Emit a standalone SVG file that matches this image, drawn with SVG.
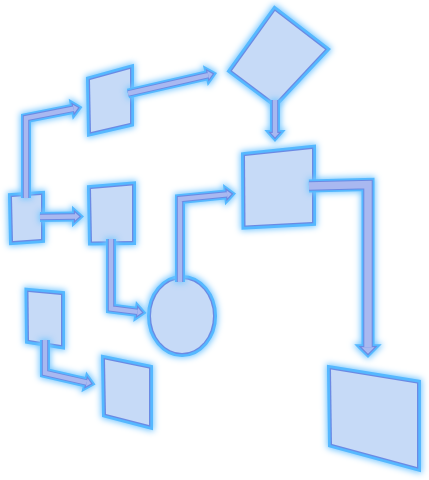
<svg xmlns="http://www.w3.org/2000/svg" xmlns:xlink="http://www.w3.org/1999/xlink" width="429" height="480" viewBox="0 0 429 480">
<defs>
<filter id="glow" filterUnits="userSpaceOnUse" x="0" y="0" width="429" height="480" color-interpolation-filters="sRGB">
<feMorphology in="SourceAlpha" operator="dilate" radius="1" result="m"/>
<feGaussianBlur in="m" stdDeviation="3" result="b"/>
<feFlood flood-color="#74c6ff" flood-opacity="1"/>
<feComposite in2="b" operator="in" result="g"/>
<feMerge><feMergeNode in="g"/><feMergeNode in="SourceGraphic"/></feMerge>
</filter>
<path id="pa" d="M26,198 V118 L73.67,108.72"/>
<polygon id="ha" points="74.43,112.65 78.08,107.86 72.91,104.79"/>
<path id="pb" d="M40,217 L75,216.5"/>
<polygon id="hb" points="75,212.5 79.5,216.5 75,220.5"/>
<path id="pc" d="M128,93.5 L208.23,75.02"/>
<polygon id="hc" points="209.13,78.92 212.61,74.01 207.33,71.12"/>
<path id="pd" d="M111,239 V308.5 L137.57,311.87"/>
<polygon id="hd" points="137.07,315.84 142.04,312.43 138.07,307.9"/>
<path id="pe" d="M180,282 V199 L227.04,194.38"/>
<polygon id="he" points="227.43,198.36 231.52,193.94 226.65,190.4"/>
<path id="pf" d="M275,100 V133"/>
<polygon id="hf" points="271,133 275,137.5 279,133"/>
<path id="ph" d="M45,340 V373 L86.72,382.5"/>
<polygon id="hh" points="85.83,386.4 91.11,383.5 87.61,378.6"/>
<path id="pg" d="M309,186 L368,184.5 V347.3"/>
<polygon id="hg" points="361.5,347.3 368,353.8 374.5,347.3"/>
</defs>
<style>
.n{filter:url(#glow)}
.o{fill:none;stroke:#55b8ff;stroke-width:8;stroke-linejoin:miter}
.d{fill:none;stroke:#6b8ae4;stroke-width:2.6;stroke-linejoin:miter}
.f{fill:#c6daf7;stroke:none}
.so{fill:none;stroke:#55b8ff;stroke-width:10;stroke-linejoin:miter}
.sd{fill:none;stroke:#6b8ae4;stroke-width:6.4;stroke-linejoin:miter}
.si{fill:none;stroke:#a9b8f0;stroke-width:4.4;stroke-linejoin:miter}
.wo{fill:none;stroke:#55b8ff;stroke-width:13;stroke-linejoin:miter}
.wd{fill:none;stroke:#6b8ae4;stroke-width:9.4;stroke-linejoin:miter}
.wi{fill:none;stroke:#a9b8f0;stroke-width:7.4;stroke-linejoin:miter}
.ho{fill:#55b8ff;stroke:#55b8ff;stroke-width:6;stroke-miterlimit:3;stroke-linejoin:miter}
.hd{fill:#6b8ae4;stroke:#6b8ae4;stroke-width:2.4;stroke-miterlimit:3;stroke-linejoin:miter}
.hi{fill:#a9b8f0;stroke:none}
</style>
<rect width="429" height="480" fill="#ffffff"/>
<g id="node-a" class="n">
<polygon class="o" points="12,197 41,195 41,239 13,241"/>
<polygon class="d" points="12,197 41,195 41,239 13,241"/>
<polygon class="f" points="12,197 41,195 41,239 13,241"/>
</g>
<g id="node-b" class="n">
<polygon class="o" points="90,80 130,69 130,123 91,132"/>
<polygon class="d" points="90,80 130,69 130,123 91,132"/>
<polygon class="f" points="90,80 130,69 130,123 91,132"/>
</g>
<g id="node-c" class="n">
<polygon class="o" points="91,189 132,185.5 132,241 92,241.5"/>
<polygon class="d" points="91,189 132,185.5 132,241 92,241.5"/>
<polygon class="f" points="91,189 132,185.5 132,241 92,241.5"/>
</g>
<g id="node-diamond" class="n">
<polygon class="o" points="275,11 325,49.5 275,103 232,70.7"/>
<polygon class="d" points="275,11 325,49.5 275,103 232,70.7"/>
<polygon class="f" points="275,11 325,49.5 275,103 232,70.7"/>
</g>
<g id="node-d" class="n">
<polygon class="o" points="245,156 312,149 312,222 245.5,225.5"/>
<polygon class="d" points="245,156 312,149 312,222 245.5,225.5"/>
<polygon class="f" points="245,156 312,149 312,222 245.5,225.5"/>
</g>
<g id="node-ellipse" class="n">
<ellipse class="o" cx="182" cy="316" rx="31" ry="37"/>
<ellipse class="d" cx="182" cy="316" rx="31" ry="37"/>
<ellipse class="f" cx="182" cy="316" rx="31" ry="37"/>
</g>
<g id="node-e" class="n">
<polygon class="o" points="28.5,292 61,295 61,345 29,340"/>
<polygon class="d" points="28.5,292 61,295 61,345 29,340"/>
<polygon class="f" points="28.5,292 61,295 61,345 29,340"/>
</g>
<g id="node-f" class="n">
<polygon class="o" points="105,359.5 149,368.5 149,425 106,414"/>
<polygon class="d" points="105,359.5 149,368.5 149,425 106,414"/>
<polygon class="f" points="105,359.5 149,368.5 149,425 106,414"/>
</g>
<g id="node-g" class="n">
<polygon class="o" points="331,369.5 417,383.5 417,467 332,444"/>
<polygon class="d" points="331,369.5 417,383.5 417,467 332,444"/>
<polygon class="f" points="331,369.5 417,383.5 417,467 332,444"/>
</g>
<g id="connectors" class="n">
<use href="#pa" class="so"/><use href="#pb" class="so"/><use href="#pc" class="so"/><use href="#pd" class="so"/>
<use href="#pe" class="so"/><use href="#pf" class="so"/><use href="#ph" class="so"/><use href="#pg" class="wo"/>
<use href="#ha" class="ho"/><use href="#hb" class="ho"/><use href="#hc" class="ho"/><use href="#hd" class="ho"/>
<use href="#he" class="ho"/><use href="#hf" class="ho"/><use href="#hh" class="ho"/><use href="#hg" class="ho"/>
<use href="#pa" class="sd"/><use href="#pb" class="sd"/><use href="#pc" class="sd"/><use href="#pd" class="sd"/>
<use href="#pe" class="sd"/><use href="#pf" class="sd"/><use href="#ph" class="sd"/><use href="#pg" class="wd"/>
<use href="#ha" class="hd"/><use href="#hb" class="hd"/><use href="#hc" class="hd"/><use href="#hd" class="hd"/>
<use href="#he" class="hd"/><use href="#hf" class="hd"/><use href="#hh" class="hd"/><use href="#hg" class="hd"/>
<use href="#pa" class="si"/><use href="#pb" class="si"/><use href="#pc" class="si"/><use href="#pd" class="si"/>
<use href="#pe" class="si"/><use href="#pf" class="si"/><use href="#ph" class="si"/><use href="#pg" class="wi"/>
<use href="#ha" class="hi"/><use href="#hb" class="hi"/><use href="#hc" class="hi"/><use href="#hd" class="hi"/>
<use href="#he" class="hi"/><use href="#hf" class="hi"/><use href="#hh" class="hi"/><use href="#hg" class="hi"/>
</g>
</svg>
